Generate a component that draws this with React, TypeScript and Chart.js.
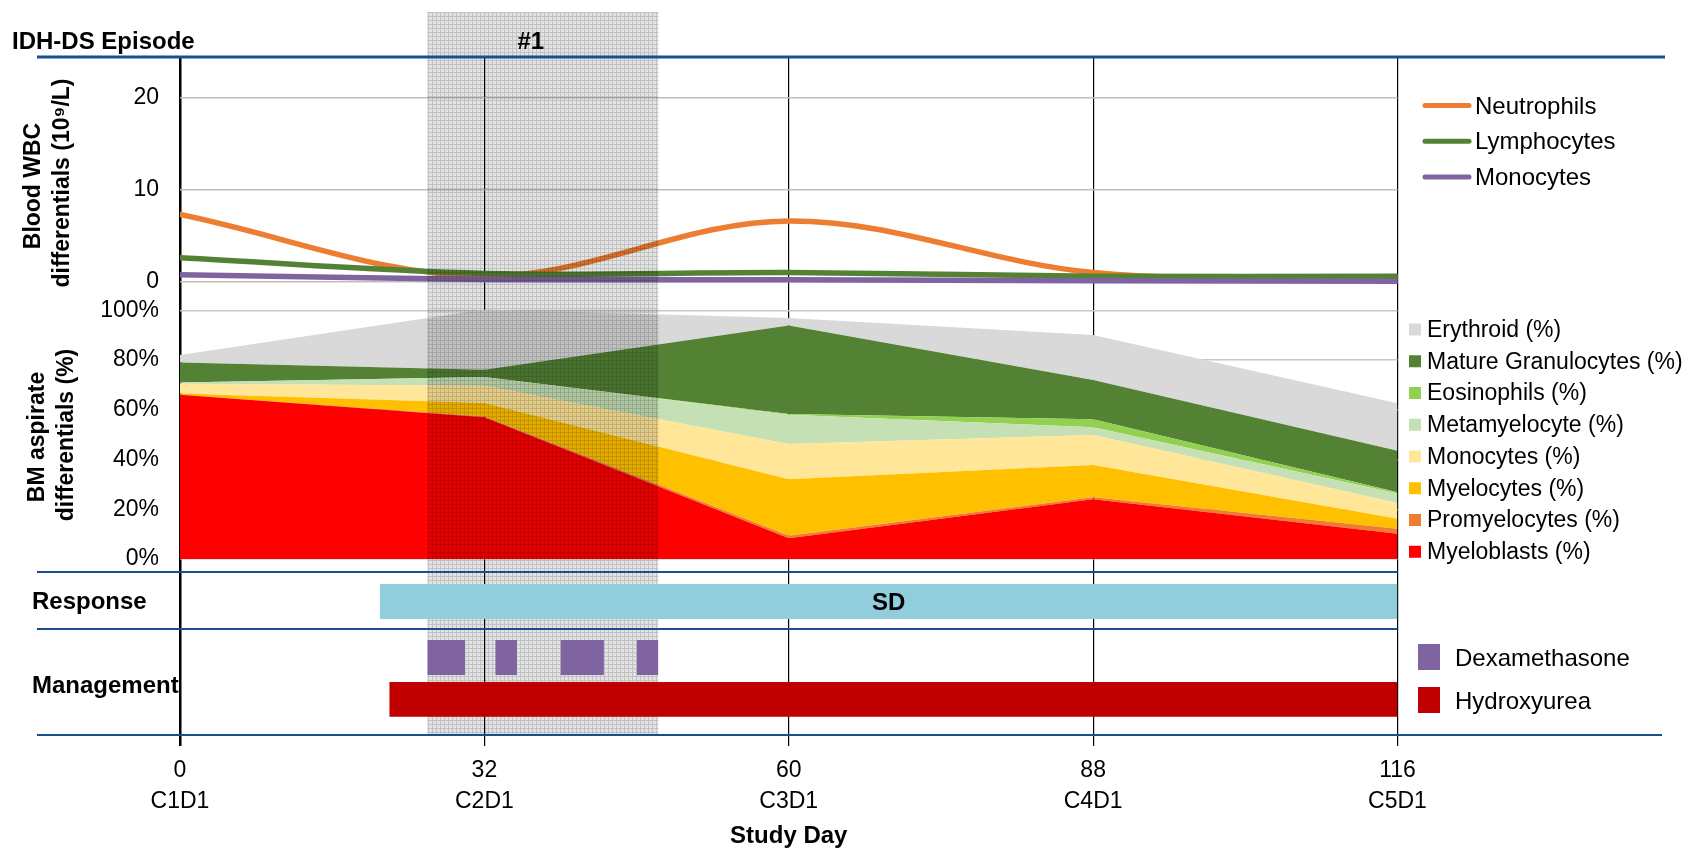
import React, { useEffect, useRef } from 'react';
import { Chart, registerables } from 'chart.js';

Chart.register(...registerables);

// ---------------- data ----------------
const cycleDays = [0, 32, 60, 88, 116];
const cycleLabels = ['C1D1', 'C2D1', 'C3D1', 'C4D1', 'C5D1'];

// Blood WBC differentials (10^9/L)
const neutrophils = [7.3, 0.6, 6.6, 1.0, 0.5];
const lymphocytes = [2.6, 0.9, 1.0, 0.6, 0.6];
const monocytesBlood = [0.75, 0.25, 0.2, 0.1, 0.05];
const wbcTicks = [0, 10, 20];

// BM aspirate differentials (%)
const myeloblasts = [66, 57, 8.3, 24, 10.2];
const promyelocytes = [0, 0.3, 1, 0.8, 2];
const myelocytes = [0.5, 5.4, 22.8, 13, 4];
const monocytesBM = [4, 7, 14.1, 12.1, 6.3];
const metamyelocytes = [0.5, 3.5, 11.8, 3.1, 3.8];
const eosinophils = [0, 0, 0.3, 3.2, 0.5];
const matureGranulocytes = [8, 2.9, 35.6, 15.8, 16.7];
const erythroid = [3, 24.2, 3, 18.1, 19.1];
const bmTicks = [0, 20, 40, 60, 80, 100];

// Episode / response / management (study days)
const episodeDays = [26, 48];
const episodeLabel = '#1';
const responseSpan = [21, 116];
const responseLabel = 'SD';
const dexamethasoneCourses = [[26, 30], [33, 35], [39, 43], [46, 48]];
const hydroxyureaCourses = [[22, 116]];

// ---------------- helpers ----------------
const FONT = '"Liberation Sans", Arial, Helvetica, sans-serif';

function dayToPos(d: number): number {
  for (let i = 0; i < cycleDays.length - 1; i++) {
    if (d <= cycleDays[i + 1]) {
      return i + (d - cycleDays[i]) / (cycleDays[i + 1] - cycleDays[i]);
    }
  }
  return cycleDays.length - 1;
}

const toPoints = (vals: number[]) => cycleDays.map((d, i) => ({ x: dayToPos(d), y: vals[i] }));

const wbcSeries = [
  { label: 'Neutrophils', values: neutrophils, color: '#ED7D31', order: 2 },
  { label: 'Lymphocytes', values: lymphocytes, color: '#548235', order: 1 },
  { label: 'Monocytes', values: monocytesBlood, color: '#8064A2', order: 0 },
];

const bmSeries = [
  { label: 'Myeloblasts (%)', values: myeloblasts, color: '#FF0000' },
  { label: 'Promyelocytes (%)', values: promyelocytes, color: '#ED7D31' },
  { label: 'Myelocytes (%)', values: myelocytes, color: '#FFC000' },
  { label: 'Monocytes (%)', values: monocytesBM, color: '#FFE699' },
  { label: 'Metamyelocyte (%)', values: metamyelocytes, color: '#C5E0B4' },
  { label: 'Eosinophils (%)', values: eosinophils, color: '#92D050' },
  { label: 'Mature Granulocytes (%)', values: matureGranulocytes, color: '#548235' },
  { label: 'Erythroid (%)', values: erythroid, color: '#D9D9D9' },
];

const RESPONSE_COLOR = '#92CDDC';
const DEX_COLOR = '#8064A2';
const HU_COLOR = '#C00000';
const BLUE = '#1B4E8E';

// lane extents inside the response / management bands (axis 0..1)
const RESP_LANE = [0.175, 0.789];
const DEX_LANE = [0.566, 0.896];
const HU_LANE = [0.173, 0.5];

function rectDataset(label: string, span: number[], lane: number[], axis: string, color: string) {
  return {
    type: 'line' as const,
    label,
    data: [
      { x: dayToPos(span[0]), y: lane[1] },
      { x: dayToPos(span[1]), y: lane[1] },
    ],
    yAxisID: axis,
    backgroundColor: color,
    borderColor: 'transparent',
    borderWidth: 0,
    pointRadius: 0,
    pointHoverRadius: 0,
    tension: 0,
    fill: { value: lane[0] },
    order: 10,
  };
}

function makePattern(ctx: CanvasRenderingContext2D) {
  const c = document.createElement('canvas');
  c.width = 4;
  c.height = 4;
  const p = c.getContext('2d')!;
  p.fillStyle = 'rgba(0,0,0,0.11)';
  p.fillRect(0, 0, 4, 4);
  p.clearRect(0, 0, 4, 1);
  p.clearRect(0, 0, 1, 4);
  p.fillStyle = 'rgba(0,0,0,0.24)';
  p.fillRect(0, 0, 4, 1);
  p.fillRect(0, 1, 1, 3);
  return ctx.createPattern(c, 'repeat');
}

function episodeRect(chart: any, yTop: number, yBottom: number) {
  const { ctx, scales } = chart;
  const x = scales.x;
  const x0 = x.getPixelForValue(dayToPos(episodeDays[0]));
  const x1 = x.getPixelForValue(dayToPos(episodeDays[1]));
  ctx.save();
  ctx.fillStyle = makePattern(ctx) || 'rgba(0,0,0,0.17)';
  ctx.fillRect(x0, yTop, x1 - x0, yBottom - yTop);
  ctx.restore();
}

const decorPlugin = {
  id: 'decor',
  beforeDatasetsDraw(chart: any) {
    // behind the response / management bars
    episodeRect(chart, chart.scales.yR.top, chart.chartArea.bottom);
  },
  afterDatasetsDraw(chart: any) {
    // over the blood and marrow panels
    episodeRect(chart, 12, chart.scales.yR.top);
  },
  afterDraw(chart: any) {
    const { ctx, chartArea, scales } = chart;
    const x = scales.x;
    const yR = scales.yR;
    const yM = scales.yM;
    ctx.save();

    // blue separator lines
    ctx.strokeStyle = BLUE;
    const hline = (y: number, xa: number, xb: number, w: number) => {
      ctx.lineWidth = w;
      ctx.beginPath();
      ctx.moveTo(xa, y);
      ctx.lineTo(xb, y);
      ctx.stroke();
    };
    hline(chartArea.top, 37, 1665, 3);
    hline(yR.top, 37, chartArea.right, 2);
    hline(yM.top, 37, chartArea.right, 2);
    hline(chartArea.bottom, 37, 1662, 2);

    ctx.fillStyle = '#000';
    ctx.textBaseline = 'middle';

    // header labels
    ctx.font = `bold 24px ${FONT}`;
    ctx.textAlign = 'left';
    ctx.fillText('IDH-DS Episode', 12, 42);
    const ex0 = x.getPixelForValue(dayToPos(episodeDays[0]));
    const ex1 = x.getPixelForValue(dayToPos(episodeDays[1]));
    ctx.textAlign = 'center';
    ctx.fillText(episodeLabel, (ex0 + ex1) / 2 - 12, 42);

    // section labels
    ctx.textAlign = 'left';
    ctx.fillText('Response', 32, yR.getPixelForValue(0.5) + 2);
    ctx.fillText('Management', 32, 686);

    // SD label
    const rx0 = x.getPixelForValue(dayToPos(responseSpan[0]));
    const rx1 = x.getPixelForValue(dayToPos(responseSpan[1]));
    ctx.textAlign = 'center';
    ctx.fillText(responseLabel, (rx0 + rx1) / 2, yR.getPixelForValue((RESP_LANE[0] + RESP_LANE[1]) / 2) + 2);

    // rotated axis titles
    ctx.font = `bold 23px ${FONT}`;
    const vtext = (txt: string, cx: number, cy: number) => {
      ctx.save();
      ctx.translate(cx, cy);
      ctx.rotate(-Math.PI / 2);
      ctx.textAlign = 'center';
      ctx.fillText(txt, 0, 0);
      ctx.restore();
    };
    vtext('Blood WBC', 34, 186);
    vtext('differentials (10\u2079/L)', 63, 183);
    vtext('BM aspirate', 38, 437);
    vtext('differentials (%)', 67, 435);

    // WBC legend
    ctx.font = `24px ${FONT}`;
    ctx.textAlign = 'left';
    ctx.lineCap = 'round';
    ctx.lineWidth = 5;
    wbcSeries.forEach((s, i) => {
      const y = 105.5 + i * 35.8;
      ctx.strokeStyle = s.color;
      ctx.beginPath();
      ctx.moveTo(1425, y);
      ctx.lineTo(1469, y);
      ctx.stroke();
      ctx.fillText(s.label, 1475, y + 1.5);
    });

    // BM legend (reverse order)
    ctx.font = `23px ${FONT}`;
    const bmRev = [...bmSeries].reverse();
    bmRev.forEach((s, i) => {
      const y = 329.5 + i * 31.75;
      ctx.fillStyle = s.color;
      ctx.fillRect(1409, y - 6, 12, 12);
      ctx.fillStyle = '#000';
      ctx.fillText(s.label, 1427, y + 1);
    });

    // Management legend
    ctx.font = `24px ${FONT}`;
    const mg = [
      { label: 'Dexamethasone', color: DEX_COLOR, y: 657 },
      { label: 'Hydroxyurea', color: HU_COLOR, y: 700 },
    ];
    mg.forEach((m) => {
      ctx.fillStyle = m.color;
      ctx.fillRect(1418, m.y - 13, 22, 26);
      ctx.fillStyle = '#000';
      ctx.fillText(m.label, 1455, m.y + 2);
    });

    ctx.restore();
  },
};

export default function App() {
  const ref = useRef<HTMLCanvasElement>(null);

  useEffect(() => {
    if (!ref.current) return;
    Chart.defaults.font.family = FONT;
    Chart.defaults.color = '#000';

    const datasets: any[] = [];
    wbcSeries.forEach((s) => {
      datasets.push({
        type: 'line',
        label: s.label,
        data: toPoints(s.values),
        yAxisID: 'yW',
        borderColor: s.color,
        backgroundColor: s.color,
        borderWidth: 5.5,
        borderCapStyle: 'round',
        pointRadius: 0,
        pointHoverRadius: 0,
        tension: 0.35,
        fill: false,
        order: s.order,
      });
    });
    bmSeries.forEach((s, i) => {
      datasets.push({
        type: 'line',
        label: s.label,
        data: toPoints(s.values),
        yAxisID: 'yB',
        backgroundColor: s.color,
        borderColor: 'transparent',
        borderWidth: 0,
        pointRadius: 0,
        pointHoverRadius: 0,
        tension: 0,
        fill: i === 0 ? { value: 0 } : '-1',
        order: 10,
      });
    });
    datasets.push(rectDataset('Response', responseSpan, RESP_LANE, 'yR', RESPONSE_COLOR));
    dexamethasoneCourses.forEach((c) => datasets.push(rectDataset('Dexamethasone', c, DEX_LANE, 'yM', DEX_COLOR)));
    hydroxyureaCourses.forEach((c) => datasets.push(rectDataset('Hydroxyurea', c, HU_LANE, 'yM', HU_COLOR)));

    const hiddenLane = (weight: number, stackWeight: number) => ({
      type: 'linear',
      position: 'left',
      stack: 'left',
      stackWeight,
      weight,
      min: 0,
      max: 1,
      bounds: 'data',
      afterFit: (s: any) => {
        s.width = 180;
      },
      ticks: { display: false },
      grid: { display: false, drawTicks: false },
      border: { display: false },
    });

    const chart = new Chart(ref.current, {
      type: 'line',
      data: { datasets },
      plugins: [decorPlugin],
      options: {
        responsive: false,
        animation: false,
        devicePixelRatio: 1,
        events: [],
        layout: { padding: { top: 57, right: 286.5, left: 0, bottom: 0 } },
        plugins: {
          legend: { display: false },
          tooltip: { enabled: false },
          title: { display: false },
        },
        scales: {
          x: {
            type: 'linear',
            min: 0,
            max: cycleDays.length - 1,
            z: 1,
            afterBuildTicks: (s: any) => {
              s.ticks = cycleDays.map((_, i) => ({ value: i }));
            },
            afterFit: (s: any) => {
              s.height = 116;
            },
            ticks: {
              autoSkip: false,
              maxRotation: 0,
              padding: 9.5,
              color: '#000',
              font: { size: 23, lineHeight: 1.34 },
              callback: (v: any) => [String(cycleDays[Math.round(v)]), cycleLabels[Math.round(v)]],
            },
            grid: {
              color: '#000',
              lineWidth: (c: any) => (c.index === 0 ? 2.5 : 1.2),
              tickLength: 11,
              drawTicks: true,
              drawOnChartArea: true,
            },
            border: { display: false },
            title: {
              display: true,
              text: 'Study Day',
              color: '#000',
              font: { size: 24, weight: 'bold' },
              padding: { top: 0, bottom: 0 },
            },
          },
          yW: {
            type: 'linear',
            position: 'left',
            stack: 'left',
            stackWeight: 239,
            weight: 4,
            min: -1.554,
            max: 24.42,
            bounds: 'data',
            afterBuildTicks: (s: any) => {
              s.ticks = wbcTicks.map((v) => ({ value: v }));
            },
            afterFit: (s: any) => {
              s.width = 180;
            },
            ticks: { color: '#000', padding: 21, font: { size: 23 }, callback: (v: any) => String(v) },
            grid: { color: '#BFBFBF', lineWidth: 1.5, drawTicks: false },
            border: { display: false },
          },
          yB: {
            type: 'linear',
            position: 'left',
            stack: 'left',
            stackWeight: 276,
            weight: 3,
            stacked: true,
            min: -5.227,
            max: 105.75,
            bounds: 'data',
            afterBuildTicks: (s: any) => {
              s.ticks = bmTicks.map((v) => ({ value: v }));
            },
            afterFit: (s: any) => {
              s.width = 180;
            },
            ticks: { color: '#000', padding: 21, font: { size: 23 }, callback: (v: any) => `${v}%` },
            grid: { color: '#C8C8C8', lineWidth: 1.5, drawTicks: false },
            border: { display: false },
          },
          yR: hiddenLane(2, 57),
          yM: hiddenLane(1, 106),
        } as any,
      },
    } as any);

    return () => chart.destroy();
  }, []);

  return (
    <div style={{ position: 'absolute', left: 0, top: 0, width: 1684, height: 851, background: '#fff' }}>
      <canvas ref={ref} width={1684} height={851} style={{ display: 'block' }} />
    </div>
  );
}
